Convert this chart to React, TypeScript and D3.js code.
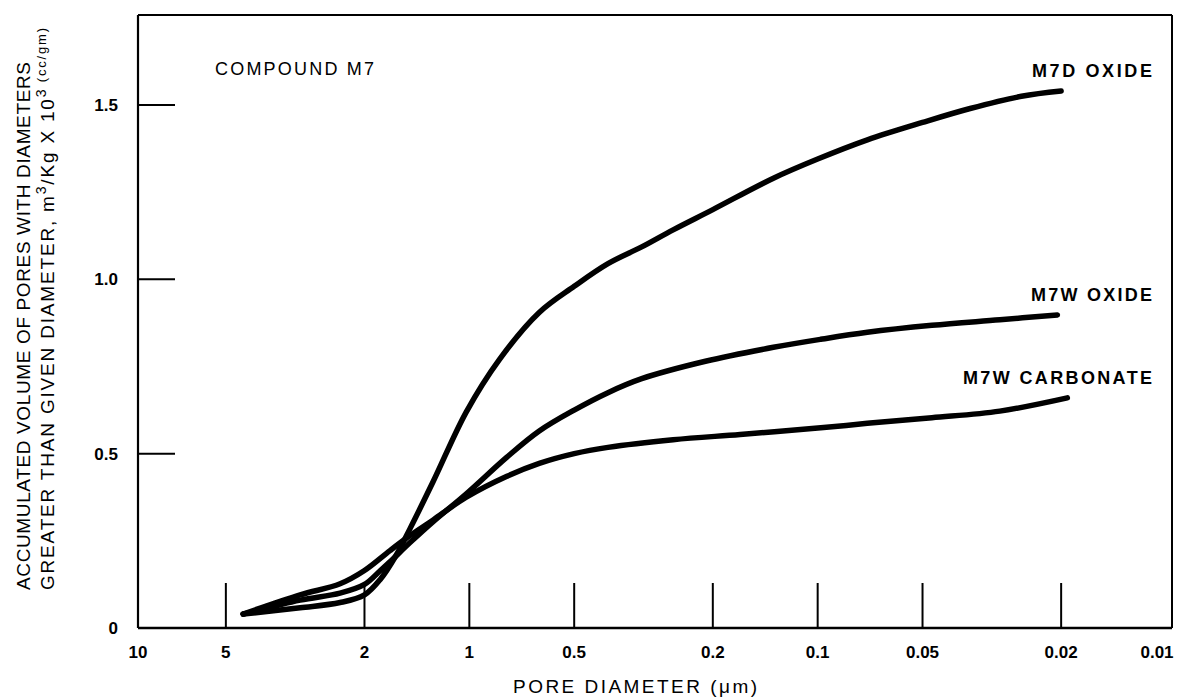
import React from "react";
import * as d3 from "d3";

// ---------- data ----------
const diameterTicks = [10, 5, 2, 1, 0.5, 0.2, 0.1, 0.05, 0.02, 0.01];
const diameterTickLabels = ["10", "5", "2", "1", "0.5", "0.2", "0.1", "0.05", "0.02", "0.01"];
const diameterTickMarks = [5, 2, 1, 0.5, 0.2, 0.1, 0.05, 0.02];
const volumeTicks = [0.5, 1.0, 1.5];
const volumeTickLabelValues = [0, 0.5, 1.0, 1.5];
const volumeTickLabels = ["0", "0.5", "1.0", "1.5"];

const m7dDiameter = [4.46, 3.06, 2.35, 2.0, 1.8, 1.63, 1.48, 1.27, 1.02, 0.82, 0.63, 0.5, 0.4, 0.32, 0.26, 0.2, 0.134, 0.1, 0.072, 0.05, 0.0365, 0.026, 0.02];
const m7dVolume = [0.04, 0.058, 0.073, 0.095, 0.14, 0.205, 0.285, 0.42, 0.62, 0.77, 0.905, 0.98, 1.045, 1.093, 1.142, 1.2, 1.29, 1.345, 1.4, 1.45, 1.49, 1.525, 1.54];

const m7wOxideDiameter = [4.46, 3.06, 2.35, 2.0, 1.8, 1.69, 1.48, 1.27, 1.02, 0.78, 0.63, 0.5, 0.4, 0.32, 0.21, 0.134, 0.098, 0.072, 0.047, 0.03, 0.0205];
const m7wOxideVolume = [0.04, 0.08, 0.1, 0.125, 0.165, 0.19, 0.245, 0.305, 0.385, 0.49, 0.565, 0.625, 0.675, 0.715, 0.765, 0.805, 0.828, 0.848, 0.868, 0.884, 0.898];

const m7wCarbDiameter = [4.46, 3.06, 2.35, 2.0, 1.69, 1.48, 1.27, 1.02, 0.78, 0.63, 0.5, 0.4, 0.26, 0.167, 0.098, 0.072, 0.047, 0.03, 0.0192];
const m7wCarbVolume = [0.04, 0.095, 0.127, 0.165, 0.222, 0.265, 0.31, 0.375, 0.435, 0.472, 0.5, 0.518, 0.54, 0.555, 0.574, 0.587, 0.603, 0.622, 0.66];

const seriesNames = ["M7D OXIDE", "M7W OXIDE", "M7W CARBONATE"];

// ---------- layout ----------
const W = 1182;
const H = 697;
const LEFT = 138;
const RIGHT = 1172;
const TOP = 15;
const BOTTOM = 628;
const FONT = "'Liberation Sans', Arial, Helvetica, sans-serif";
const labelLengths = [120, 121, 189];

export default function App() {
  const x = d3.scaleLog().domain([10, 0.01]).range([121, 1166]);
  const y = d3.scaleLinear().domain([0, 1.5]).range([BOTTOM, 105]);

  const series = [
    { name: seriesNames[0], d: m7dDiameter, v: m7dVolume },
    { name: seriesNames[1], d: m7wOxideDiameter, v: m7wOxideVolume },
    { name: seriesNames[2], d: m7wCarbDiameter, v: m7wCarbVolume },
  ];

  const line = d3
    .line<[number, number]>()
    .x((p) => x(p[0]))
    .y((p) => y(p[1]))
    .curve(d3.curveCatmullRom.alpha(0.5));

  return (
    <svg
      width={W}
      height={H}
      style={{ position: "absolute", left: 0, top: 0, background: "#fff", display: "block" }}
      fontFamily={FONT}
    >
      <rect x={0} y={0} width={W} height={H} fill="#fff" />

      {/* frame */}
      <line x1={LEFT} y1={TOP} x2={RIGHT} y2={TOP} stroke="#000" strokeWidth={2} />
      <line x1={LEFT} y1={TOP} x2={LEFT} y2={BOTTOM} stroke="#000" strokeWidth={2.2} />
      <line x1={RIGHT} y1={TOP} x2={RIGHT} y2={BOTTOM} stroke="#000" strokeWidth={2} />
      <line x1={LEFT} y1={BOTTOM} x2={RIGHT} y2={BOTTOM} stroke="#000" strokeWidth={2.4} />

      {/* y ticks */}
      {volumeTicks.map((v) => (
        <line key={"yt" + v} x1={LEFT} x2={LEFT + 37} y1={y(v)} y2={y(v)} stroke="#000" strokeWidth={2} />
      ))}
      {volumeTickLabelValues.map((v, i) => (
        <text key={"yl" + v} x={118} y={y(v)} dy="0.36em" textAnchor="end" fontSize={17} fontWeight="bold">
          {volumeTickLabels[i]}
        </text>
      ))}

      {/* x ticks */}
      {diameterTickMarks.map((d) => (
        <line key={"xt" + d} x1={x(d)} x2={x(d)} y1={BOTTOM} y2={BOTTOM - 45} stroke="#000" strokeWidth={2} />
      ))}
      {diameterTicks.map((d, i) => (
        <text
          key={"xl" + d}
          x={Math.min(Math.max(x(d), LEFT), RIGHT - 15)}
          y={BOTTOM + 30}
          textAnchor="middle"
          fontSize={17}
          fontWeight="bold"
        >
          {diameterTickLabels[i]}
        </text>
      ))}

      {/* curves */}
      {series.map((s) => (
        <path
          key={s.name}
          d={line(s.d.map((d, i) => [d, s.v[i]] as [number, number])) || ""}
          fill="none"
          stroke="#000"
          strokeWidth={5.5}
          strokeLinecap="round"
          strokeLinejoin="round"
        />
      ))}

      {/* series labels */}
      {series.map((s, i) => (
        <text
          key={"lab" + s.name}
          x={1152}
          y={y(s.v[s.v.length - 1]) - 14}
          textAnchor="end"
          fontSize={18}
          fontWeight="bold"
          textLength={labelLengths[i]}
          lengthAdjust="spacing"
        >
          {s.name}
        </text>
      ))}

      {/* compound label */}
      <text x={215} y={75} fontSize={18} textLength={159} lengthAdjust="spacing">
        COMPOUND M7
      </text>

      {/* x axis title */}
      <text x={513} y={693} fontSize={19} textLength={244} lengthAdjust="spacing">
        PORE DIAMETER (μm)
      </text>

      {/* y axis title */}
      <text transform="translate(30,590) rotate(-90)" fontSize={19} textLength={528} lengthAdjust="spacing">
        ACCUMULATED VOLUME OF PORES WITH DIAMETERS
      </text>
      <text transform="translate(54,590) rotate(-90)" fontSize={19} textLength={562} lengthAdjust="spacing">
        GREATER THAN GIVEN DIAMETER, m
        <tspan dy={-8} fontSize={14}>3</tspan>
        <tspan dy={8}>/Kg X 10</tspan>
        <tspan dy={-8} fontSize={14}>3</tspan>
        <tspan fontSize={13}> (cc/gm)</tspan>
      </text>
    </svg>
  );
}
